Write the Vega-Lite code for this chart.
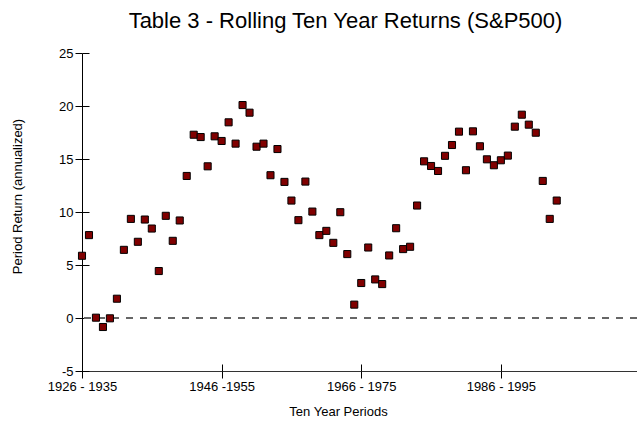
{
  "$schema": "https://vega.github.io/schema/vega-lite/v6.json",
  "width": 555,
  "height": 318,
  "autosize": {"type": "none"},
  "padding": {"left": 82, "top": 53, "right": 0, "bottom": 50},
  "background": "white",
  "config": {
    "view": {"stroke": null},
    "font": "Liberation Sans",
    "axis": {"grid": false, "labelFont": "Liberation Sans", "titleFont": "Liberation Sans", "labelColor": "black", "titleColor": "black", "tickColor": "black", "domainColor": "black", "labelFlush": false, "labelOverlap": false}
  },
  "title": {
    "text": "Table 3 - Rolling Ten Year Returns (S&P500)",
    "fontSize": 22,
    "fontWeight": "normal",
    "color": "black",
    "font": "Liberation Sans",
    "anchor": "middle",
    "frame": "group",
    "dx": -14,
    "offset": 14
  },
  "data": {
    "values": [
      {"start": 1926, "ret": 5.87}, {"start": 1927, "ret": 7.82}, {"start": 1928, "ret": 0.03},
      {"start": 1929, "ret": -0.85}, {"start": 1930, "ret": -0.03}, {"start": 1931, "ret": 1.82},
      {"start": 1932, "ret": 6.43}, {"start": 1933, "ret": 9.35}, {"start": 1934, "ret": 7.19},
      {"start": 1935, "ret": 9.29}, {"start": 1936, "ret": 8.44}, {"start": 1937, "ret": 4.43},
      {"start": 1938, "ret": 9.64}, {"start": 1939, "ret": 7.28}, {"start": 1940, "ret": 9.2},
      {"start": 1941, "ret": 13.4}, {"start": 1942, "ret": 17.29}, {"start": 1943, "ret": 17.07},
      {"start": 1944, "ret": 14.31}, {"start": 1945, "ret": 17.14}, {"start": 1946, "ret": 16.7},
      {"start": 1947, "ret": 18.46}, {"start": 1948, "ret": 16.45}, {"start": 1949, "ret": 20.09},
      {"start": 1950, "ret": 19.37}, {"start": 1951, "ret": 16.16}, {"start": 1952, "ret": 16.45},
      {"start": 1953, "ret": 13.47}, {"start": 1954, "ret": 15.94}, {"start": 1955, "ret": 12.84},
      {"start": 1956, "ret": 11.08}, {"start": 1957, "ret": 9.23}, {"start": 1958, "ret": 12.87},
      {"start": 1959, "ret": 10.04}, {"start": 1960, "ret": 7.82}, {"start": 1961, "ret": 8.22},
      {"start": 1962, "ret": 7.09}, {"start": 1963, "ret": 9.98}, {"start": 1964, "ret": 6.03},
      {"start": 1965, "ret": 1.26}, {"start": 1966, "ret": 3.3}, {"start": 1967, "ret": 6.65},
      {"start": 1968, "ret": 3.64}, {"start": 1969, "ret": 3.2}, {"start": 1970, "ret": 5.9},
      {"start": 1971, "ret": 8.47}, {"start": 1972, "ret": 6.5}, {"start": 1973, "ret": 6.72},
      {"start": 1974, "ret": 10.61}, {"start": 1975, "ret": 14.78}, {"start": 1976, "ret": 14.34},
      {"start": 1977, "ret": 13.87}, {"start": 1978, "ret": 15.3}, {"start": 1979, "ret": 16.32},
      {"start": 1980, "ret": 17.58}, {"start": 1981, "ret": 13.94}, {"start": 1982, "ret": 17.61},
      {"start": 1983, "ret": 16.2}, {"start": 1984, "ret": 14.97}, {"start": 1985, "ret": 14.41},
      {"start": 1986, "ret": 14.88}, {"start": 1987, "ret": 15.32}, {"start": 1988, "ret": 18.05},
      {"start": 1989, "ret": 19.18}, {"start": 1990, "ret": 18.24}, {"start": 1991, "ret": 17.48},
      {"start": 1992, "ret": 12.93}, {"start": 1993, "ret": 9.35}, {"start": 1994, "ret": 11.08}
    ]
  },
  "layer": [
    {
      "mark": {"type": "rule", "strokeDash": [7, 7], "color": "#666666", "strokeWidth": 1},
      "encoding": {
        "y": {"datum": 0, "type": "quantitative", "scale": {"domain": [-5, 25], "nice": false}, "axis": null}
      }
    },
    {
      "mark": {"type": "point", "shape": "square", "filled": true, "fill": "#800000", "stroke": "black", "strokeWidth": 1, "size": 50, "opacity": 1},
      "encoding": {
        "x": {
          "field": "start", "type": "quantitative",
          "scale": {"domain": [1926, 2005.5], "nice": false, "zero": false},
          "axis": {
            "orient": "bottom",
            "values": [1926, 1946, 1966, 1986],
            "tickSize": 7,
            "domainColor": "#333333",
            "labelFontSize": 13,
            "labelPadding": 2,
            "labelFlush": false,
            "labelExpr": "datum.value == 1926 ? '1926 - 1935' : datum.value == 1946 ? '1946 -1955' : datum.value == 1966 ? '1966 - 1975' : '1986 - 1995'",
            "title": "Ten Year Periods",
            "titleFontSize": 13,
            "titleFontWeight": "normal",
            "titleX": 256,
            "titleY": 40,
            "titleBaseline": "middle"
          }
        },
        "y": {
          "field": "ret", "type": "quantitative",
          "scale": {"domain": [-5, 25], "nice": false},
          "axis": {
            "orient": "left",
            "values": [-5, 0, 5, 10, 15, 20, 25],
            "tickSize": 7,
            "labelFontSize": 13,
            "labelPadding": 2,
            "labelFlush": false,
            "labelExpr": "'' + datum.value",
            "title": "Period Return (annualized)",
            "titleFontSize": 13,
            "titleFontWeight": "normal",
            "titleX": -65,
            "titleY": 143,
            "titleAlign": "center",
            "titleBaseline": "middle",
            "titleAngle": -90
          }
        }
      }
    },
    {
      "mark": {"type": "point", "opacity": 0},
      "encoding": {
        "x": {
          "field": "start", "type": "quantitative",
          "axis": {"orient": "bottom", "offset": -7, "values": [1926, 1946, 1966, 1986], "tickSize": 7, "domain": false, "labels": false, "title": null}
        },
        "y": {
          "field": "ret", "type": "quantitative",
          "axis": {"orient": "left", "offset": -7, "values": [-5, 0, 5, 10, 15, 20, 25], "tickSize": 7, "domain": false, "labels": false, "title": null}
        }
      }
    }
  ],
  "resolve": {"axis": {"x": "independent", "y": "independent"}}
}
